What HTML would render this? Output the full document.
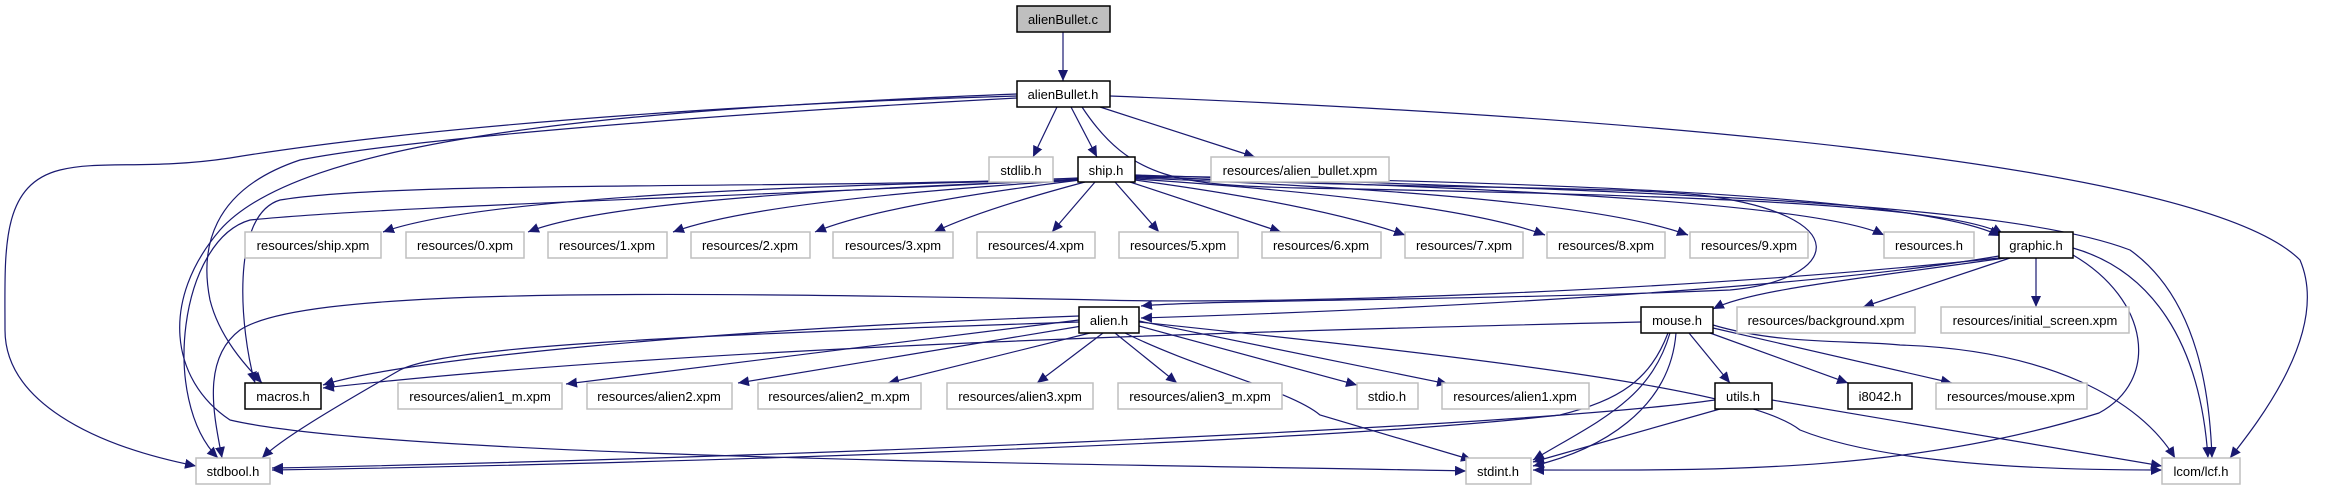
<!DOCTYPE html>
<html><head><meta charset="utf-8"><style>
html,body{margin:0;padding:0;background:#fff;}
svg{display:block;}
text{font-family:"Liberation Sans",sans-serif;font-size:13px;text-anchor:middle;fill:#000;}
.e{fill:none;stroke:#191970;stroke-width:1.2;marker-end:url(#a);}
.n{fill:#fff;stroke:#000;stroke-width:1.5;}
.g{fill:#fff;stroke:#bfbfbf;stroke-width:1.5;}
</style></head><body>
<svg width="2333" height="485" viewBox="0 0 2333 485" xmlns="http://www.w3.org/2000/svg">
<defs><marker id="a" markerUnits="userSpaceOnUse" markerWidth="12" markerHeight="10" refX="11" refY="5" orient="auto"><path d="M0,0 L11,5 L0,10 z" fill="#191970"/></marker></defs>

<g>
<path class="e" d="M1063,32 L1063,81"/>
<path class="e" d="M1057,107 L1033,157"/>
<path class="e" d="M1071,107 L1097,157"/>
<path class="e" d="M1100,107 L1255,157"/>
<path class="e" d="M1082,107 C1130,180 1180,185 1300,188 C1700,195 1950,205 2003,234"/>
<path class="e" d="M1110,96 C1600,115 2200,160 2300,260 C2330,330 2260,420 2230,458"/>
<path class="e" d="M1017,96 C700,105 400,130 230,158 C150,170 100,160 60,170 C0,185 5,250 5,330 C5,400 90,445 196,466"/>
<path class="e" d="M1017,98 C700,115 400,140 300,160 C210,190 200,250 210,300 C220,340 250,370 262,383"/>
<path class="e" d="M1017,94 C600,110 300,140 220,230 C160,300 170,380 230,420 C400,460 1200,465 1466,471"/>

<path class="e" d="M1080,180 Q500,190 383,232"/>
<path class="e" d="M1080,180 Q620,195 528,232"/>
<path class="e" d="M1080,180 Q760,200 673,232"/>
<path class="e" d="M1080,180 Q880,205 815,232"/>
<path class="e" d="M1085,182 Q980,210 934,232"/>
<path class="e" d="M1095,182 L1052,232"/>
<path class="e" d="M1115,182 L1159,232"/>
<path class="e" d="M1130,182 L1281,232"/>
<path class="e" d="M1135,180 Q1320,205 1405,235"/>
<path class="e" d="M1135,179 Q1450,200 1545,235"/>
<path class="e" d="M1135,178 Q1580,195 1688,235"/>
<path class="e" d="M1135,177 Q1800,195 1884,235"/>
<path class="e" d="M1135,176 Q1900,185 2000,236"/>
<path class="e" d="M1078,178 C800,190 400,180 280,200 C230,215 240,330 255,383"/>
<path class="e" d="M1078,179 C800,195 400,205 250,220 C180,240 160,400 218,458"/>
<path class="e" d="M1135,176 C1400,190 1600,185 1700,195 C1860,215 1840,280 1730,290 C1500,300 1200,300 1141,306"/>
<path class="e" d="M1135,175 C1600,190 2000,200 2130,250 C2200,300 2210,400 2212,458"/>

<path class="e" d="M1999,256 C1800,290 1400,310 1141,318"/>
<path class="e" d="M1999,258 C1700,290 1300,305 1100,300 C600,290 300,290 240,330 C200,360 215,420 222,458"/>
<path class="e" d="M2005,258 C1850,280 1750,290 1713,309"/>
<path class="e" d="M2010,258 L1863,307"/>
<path class="e" d="M2036,258 L2036,307"/>
<path class="e" d="M2073,255 C2150,300 2160,380 2099,413 C1900,475 1700,470 1533,470"/>
<path class="e" d="M2073,248 C2150,270 2200,340 2208,458"/>

<path class="e" d="M1079,316 C700,330 400,360 323,385"/>
<path class="e" d="M1079,320 L566,384"/>
<path class="e" d="M1082,326 L738,383"/>
<path class="e" d="M1090,333 L888,383"/>
<path class="e" d="M1103,333 L1037,383"/>
<path class="e" d="M1115,333 L1177,383"/>
<path class="e" d="M1139,326 L1357,385"/>
<path class="e" d="M1139,321 L1448,384"/>
<path class="e" d="M1125,333 C1200,370 1290,390 1320,415 L1472,460"/>
<path class="e" d="M1079,322 C700,335 450,345 400,370 C330,410 280,440 262,458"/>
<path class="e" d="M1139,322 C1500,360 1750,390 1800,430 C1900,470 2100,470 2162,470"/>

<path class="e" d="M1689,333 L1730,383"/>
<path class="e" d="M1710,333 L1848,383"/>
<path class="e" d="M1713,328 L1952,383"/>
<path class="e" d="M1713,325 C1780,345 1850,340 1900,345 C2050,350 2140,400 2175,458"/>
<path class="e" d="M1670,333 C1650,400 1600,420 1533,460"/>
<path class="e" d="M1676,333 C1670,410 1600,450 1533,466"/>
<path class="e" d="M1641,322 C1300,330 700,345 323,388"/>
<path class="e" d="M1668,333 C1650,380 1620,400 1560,415 C1300,445 600,465 272,470"/>

<path class="e" d="M1715,400 C1500,430 700,460 272,468"/>
<path class="e" d="M1720,409 L1533,462"/>
<path class="e" d="M1772,400 L2162,466"/>
</g>

<g>
<rect x="1017" y="6" width="93" height="26" fill="#bfbfbf" stroke="#000" stroke-width="1.5"/><text x="1063" y="24">alienBullet.c</text>
<rect class="n" x="1017" y="81" width="93" height="26"/><text x="1063" y="99">alienBullet.h</text>
<rect class="g" x="989" y="157" width="64" height="25"/><text x="1021" y="175">stdlib.h</text>
<rect class="n" x="1078" y="157" width="57" height="25"/><text x="1106" y="175">ship.h</text>
<rect class="g" x="1211" y="157" width="178" height="25"/><text x="1300" y="175">resources/alien_bullet.xpm</text>

<rect class="g" x="245" y="232" width="136" height="26"/><text x="313" y="250">resources/ship.xpm</text>
<rect class="g" x="406" y="232" width="118" height="26"/><text x="465" y="250">resources/0.xpm</text>
<rect class="g" x="548" y="232" width="119" height="26"/><text x="607" y="250">resources/1.xpm</text>
<rect class="g" x="691" y="232" width="119" height="26"/><text x="750" y="250">resources/2.xpm</text>
<rect class="g" x="833" y="232" width="120" height="26"/><text x="893" y="250">resources/3.xpm</text>
<rect class="g" x="977" y="232" width="118" height="26"/><text x="1036" y="250">resources/4.xpm</text>
<rect class="g" x="1119" y="232" width="119" height="26"/><text x="1178" y="250">resources/5.xpm</text>
<rect class="g" x="1262" y="232" width="119" height="26"/><text x="1321" y="250">resources/6.xpm</text>
<rect class="g" x="1405" y="232" width="118" height="26"/><text x="1464" y="250">resources/7.xpm</text>
<rect class="g" x="1547" y="232" width="118" height="26"/><text x="1606" y="250">resources/8.xpm</text>
<rect class="g" x="1690" y="232" width="118" height="26"/><text x="1749" y="250">resources/9.xpm</text>
<rect class="g" x="1884" y="232" width="90" height="26"/><text x="1929" y="250">resources.h</text>
<rect class="n" x="1999" y="232" width="74" height="26"/><text x="2036" y="250">graphic.h</text>

<rect class="n" x="1079" y="307" width="60" height="26"/><text x="1109" y="325">alien.h</text>
<rect class="n" x="1641" y="307" width="72" height="26"/><text x="1677" y="325">mouse.h</text>
<rect class="g" x="1737" y="307" width="178" height="26"/><text x="1826" y="325">resources/background.xpm</text>
<rect class="g" x="1941" y="307" width="188" height="26"/><text x="2035" y="325">resources/initial_screen.xpm</text>

<rect class="n" x="245" y="383" width="76" height="26"/><text x="283" y="401">macros.h</text>
<rect class="g" x="398" y="383" width="164" height="26"/><text x="480" y="401">resources/alien1_m.xpm</text>
<rect class="g" x="587" y="383" width="145" height="26"/><text x="659" y="401">resources/alien2.xpm</text>
<rect class="g" x="758" y="383" width="163" height="26"/><text x="839" y="401">resources/alien2_m.xpm</text>
<rect class="g" x="947" y="383" width="146" height="26"/><text x="1020" y="401">resources/alien3.xpm</text>
<rect class="g" x="1118" y="383" width="164" height="26"/><text x="1200" y="401">resources/alien3_m.xpm</text>
<rect class="g" x="1357" y="383" width="61" height="26"/><text x="1387" y="401">stdio.h</text>
<rect class="g" x="1442" y="383" width="147" height="26"/><text x="1515" y="401">resources/alien1.xpm</text>
<rect class="n" x="1715" y="383" width="57" height="26"/><text x="1743" y="401">utils.h</text>
<rect class="n" x="1848" y="383" width="64" height="26"/><text x="1880" y="401">i8042.h</text>
<rect class="g" x="1936" y="383" width="151" height="26"/><text x="2011" y="401">resources/mouse.xpm</text>

<rect class="g" x="196" y="458" width="74" height="26"/><text x="233" y="476">stdbool.h</text>
<rect class="g" x="1466" y="458" width="65" height="26"/><text x="1498" y="476">stdint.h</text>
<rect class="g" x="2162" y="458" width="78" height="26"/><text x="2201" y="476">lcom/lcf.h</text>
</g>
</svg>
</body></html>
